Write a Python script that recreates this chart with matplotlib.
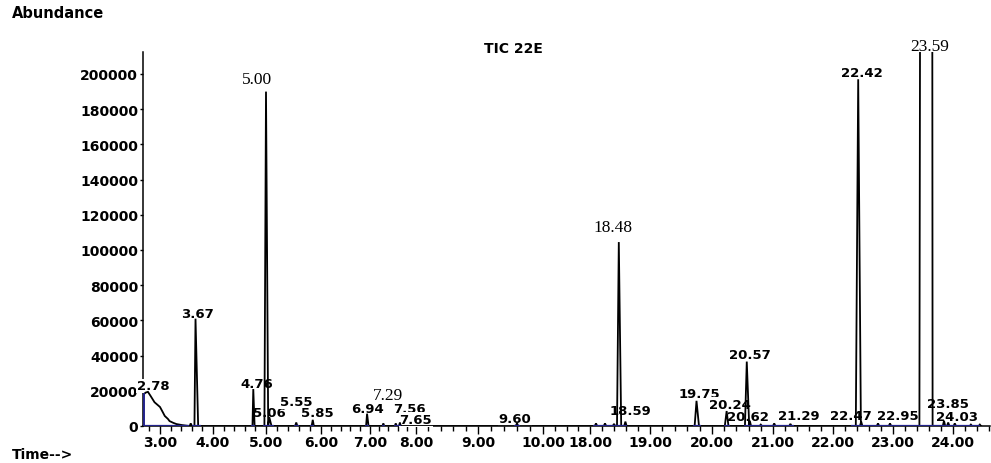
import numpy as np
import matplotlib
matplotlib.use("Agg")
import matplotlib.pyplot as plt

# ---- chromatogram data -------------------------------------------------
# broad solvent-front peak at the start of the run (time in min, abundance)
front_time = [2.70, 2.74, 2.78, 2.83, 2.90, 3.00, 3.05, 3.09, 3.15, 3.18,
              3.25, 3.31, 3.42, 3.55]
front_abund = [18000, 19000, 19400, 17000, 13500, 10800, 8000, 5700, 4000,
               2800, 1800, 1100, 500, 0]

# resolved peaks: retention time, apex abundance, rise / fall widths (min)
peak_rt = [3.58, 3.67, 4.76, 5.00, 5.06, 5.55, 5.85, 6.94, 7.29, 7.56,
           7.65, 9.60, 18.10, 18.25, 18.40, 18.48, 18.59, 19.75, 20.24,
           20.57, 20.62, 20.80, 21.02, 21.29, 22.42, 22.47, 22.75, 22.95,
           23.59, 23.85, 23.92, 24.03, 24.30, 24.45]
peak_height = [1500, 61000, 21000, 190000, 5000, 2000, 3500, 7000, 1500,
               1500, 2000, 1500, 1500, 1500, 1200, 104500, 2500, 14300, 8500,
               36600, 3000, 800, 1500, 1200, 197000, 2500, 1500, 1500,
               3200000, 3000, 2000, 1500, 800, 800]
peak_rise = [0.02, 0.02, 0.015, 0.03, 0.02, 0.02, 0.02, 0.02, 0.02, 0.02,
             0.02, 0.02, 0.02, 0.02, 0.02, 0.03, 0.02, 0.03, 0.03, 0.03,
             0.02, 0.02, 0.02, 0.02, 0.04, 0.02, 0.02, 0.02, 0.15, 0.02,
             0.02, 0.02, 0.02, 0.02]
peak_fall = [0.02, 0.05, 0.025, 0.04, 0.04, 0.02, 0.02, 0.03, 0.02, 0.02,
             0.02, 0.02, 0.02, 0.02, 0.02, 0.04, 0.02, 0.04, 0.03, 0.04,
             0.02, 0.02, 0.02, 0.02, 0.045, 0.02, 0.02, 0.02, 0.07, 0.02,
             0.02, 0.02, 0.02, 0.02]
peak_label = ["", "3.67", "4.76", "5.00", "5.06", "5.55", "5.85", "6.94",
              "7.29", "7.56", "7.65", "9.60", "", "", "", "18.48", "18.59",
              "19.75", "20.24", "20.57", "20.62", "", "", "21.29", "22.42",
              "22.47", "", "22.95", "23.59", "23.85", "", "24.03", "", ""]
front_label = "2.78"

# integration baselines (start, end) in min
baseline_start = [2.70, 3.60, 4.72, 4.95, 5.50, 5.80, 6.90, 7.25, 7.52, 9.55,
                  18.05, 19.70, 20.20, 20.52, 22.30]
baseline_end = [3.55, 3.78, 4.80, 5.15, 5.60, 5.88, 6.98, 7.32, 7.68, 9.65,
                18.62, 19.82, 20.30, 21.35, 24.45]

x_major = [3, 4, 5, 6, 7, 8, 9, 10, 18, 19, 20, 21, 22, 23, 24]
y_major = list(range(0, 200001, 20000))

# ---- layout / style ----------------------------------------------------
# piecewise time axis: the 10-18 min stretch is collapsed
T_KNOTS = [2.69, 3, 4, 5, 6, 7, 8, 9, 10, 10.4, 17.8, 18, 19, 20, 21, 22,
           23, 24, 24.62]
P_KNOTS = [143, 160, 213, 266, 321, 370, 416, 478, 543, 567, 578, 590, 650,
           712, 773, 833, 893, 953, 990]

SERIF_LABELS = {"5.00", "7.29", "18.48", "23.59"}
# label offsets from the apex in pixels (dx, dy)
NUDGE = {"2.78": (5, 6), "3.67": (2, 5), "4.76": (4, 6), "5.00": (-9, 13),
         "5.06": (0, 5), "5.55": (0, 21), "5.85": (5, 7), "6.94": (0, 5),
         "7.29": (5, 28), "7.56": (14, 15), "7.65": (16, 3), "9.60": (-2, 5),
         "18.48": (-6, 15), "18.59": (5, 11), "19.75": (3, 7),
         "20.24": (3, 7), "20.57": (3, 7), "20.62": (-2, 4),
         "21.29": (8, 8), "22.42": (4, 7), "22.47": (-10, 6),
         "22.95": (8, 8), "23.59": (1, 6), "23.85": (4, 17),
         "24.03": (2, 7)}

SANS = "DejaVu Sans"
SERIF = "Liberation Serif"
NAVY = "#22228c"
YMAX = 212500


def fwd(t):
    return np.interp(t, T_KNOTS, P_KNOTS)


def inv(p):
    return np.interp(p, P_KNOTS, T_KNOTS)


W, H = 991, 464
fig = plt.figure(figsize=(W / 100, H / 100), dpi=100)
ax = fig.add_axes([143 / W, 37 / H, (990 - 143) / W, (427 - 53) / H])
ax.set_xscale("function", functions=(fwd, inv))
ax.set_xlim(T_KNOTS[0], T_KNOTS[-1])
ax.set_ylim(0, YMAX)

# assemble the trace
tr_t = list(front_time)
tr_a = list(front_abund)
for rt, h, r, f in sorted(zip(peak_rt, peak_height, peak_rise, peak_fall)):
    tr_t += [rt - r, rt, rt + f]
    tr_a += [0, h, 0]
ax.plot(tr_t, tr_a, color="black", lw=1.3, zorder=6, solid_joinstyle="miter")

# integration baselines and the drop line of the front peak
for s, e in zip(baseline_start, baseline_end):
    ax.plot([s, e], [0, 0], color=NAVY, lw=1.6, zorder=7, solid_capstyle="butt")
ax.plot([front_time[0], front_time[0]], [0, front_abund[0]], color=NAVY,
        lw=1.4, zorder=7)

# axes decoration
for side in ("top", "right"):
    ax.spines[side].set_visible(False)
for side in ("left", "bottom"):
    ax.spines[side].set_linewidth(1.1)
ax.set_xticks(x_major)
ax.set_xticklabels([f"{v:.2f}" for v in x_major])
minor = [round(v, 1) for v in np.arange(2.8, 10.41, 0.2)] + \
        [round(v, 1) for v in np.arange(17.8, 24.61, 0.2)]
minor = [v for v in minor if v not in x_major]
ax.set_xticks(minor, minor=True)
ax.set_yticks(y_major)
ax.set_yticklabels([str(v) for v in y_major])
ax.tick_params(axis="x", which="major", direction="out", length=6, width=1,
               pad=0.5, labelsize=10)
ax.tick_params(axis="x", which="minor", direction="out", length=3.5, width=1)
ax.tick_params(axis="y", which="major", direction="out", length=2.5, width=1,
               pad=1, labelsize=10)
for lab in ax.get_xticklabels() + ax.get_yticklabels():
    lab.set_fontfamily(SANS)
    lab.set_fontweight("bold")

# peak labels: later peaks are drawn on top of earlier ones
labels = [(front_time[2], front_abund[2], front_label)]
labels += [(rt, h, lab) for rt, h, lab in zip(peak_rt, peak_height, peak_label)
           if lab]
labels.sort()
for i, (rt, h, lab) in enumerate(labels):
    dx, dy = NUDGE.get(lab, (0, 7))
    if lab in SERIF_LABELS:
        kw = dict(fontfamily=SERIF, fontsize=12.5)
    else:
        kw = dict(fontfamily=SANS, fontsize=9.5, fontweight="bold")
    ax.annotate(lab, xy=(rt, min(h, YMAX)), xytext=(dx, dy),
                textcoords="offset pixels", ha="center", va="center",
                annotation_clip=False, zorder=5 + i * 0.01,
                bbox=dict(boxstyle="square,pad=0.05", fc="white", ec="none"),
                **kw)

fig.text(12 / W, 1 - 14 / H, "Abundance", ha="left", va="center",
         fontfamily=SANS, fontsize=10.5, fontweight="bold")
fig.text(513 / W, 1 - 49 / H, "TIC 22E", ha="center", va="center",
         fontfamily=SANS, fontsize=10, fontweight="bold")
fig.text(12 / W, 1 - 455 / H, "Time-->", ha="left", va="center",
         fontfamily=SANS, fontsize=10, fontweight="bold")

fig.savefig("out.png", dpi=100)
